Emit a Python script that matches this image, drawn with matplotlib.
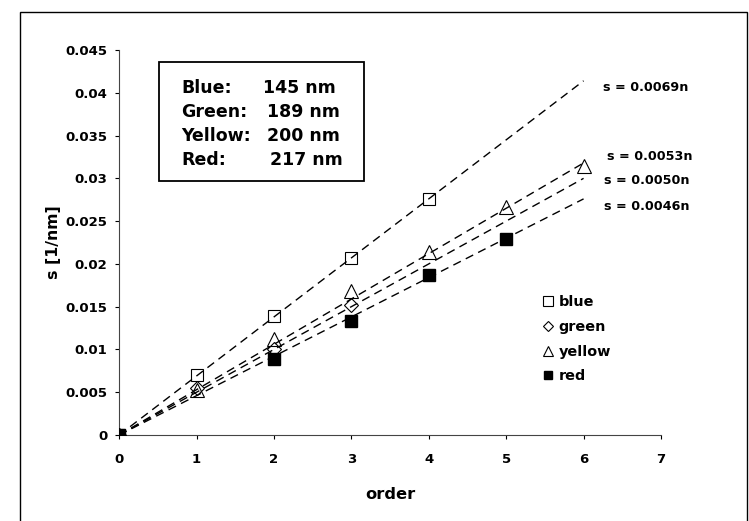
import numpy as np
import matplotlib
matplotlib.use("Agg")
import matplotlib.pyplot as plt
from matplotlib.patches import Rectangle

plt.rcParams["font.family"] = ["DejaVu Sans"]
plt.rcParams["font.weight"] = "bold"

# measured spatial frequencies per diffraction order
blue_n = [0, 1, 2, 3, 4]
blue_s = [0.0, 0.00706, 0.01387, 0.02067, 0.02755]
green_n = [0, 1, 2, 3]
green_s = [0.0, 0.0055, 0.01007, 0.01517]
yellow_n = [0, 1, 2, 3, 4, 5, 6]
yellow_s = [0.0, 0.0053, 0.01126, 0.01684, 0.0214, 0.0266, 0.0315]
red_n = [0, 2, 3, 4, 5]
red_s = [0.0, 0.00885, 0.01338, 0.0187, 0.02286]

# fitted slopes, s = k*n
slopes = [0.0069, 0.0053, 0.0050, 0.0046]
fit_labels = ["s = 0.0069n", "s = 0.0053n", "s = 0.0050n", "s = 0.0046n"]
periods = [("Blue:", "145 nm"), ("Green:", "189 nm"),
           ("Yellow:", "200 nm"), ("Red:", "217 nm")]

fig = plt.figure(figsize=(7.49, 5.21), dpi=100)
ax = fig.add_axes([0.159, 0.165, 0.7235, 0.739])

# fit lines
n_fit = np.array([0, 6])
for k in slopes:
    ax.plot(n_fit, k * n_fit, color="black", ls=(0, (6, 4)), lw=1.0, zorder=2)

ax.plot(blue_n, blue_s, "s", ms=9, mfc="none", mec="black", mew=0.8,
        label="blue", zorder=3)
ax.plot(green_n, green_s, "D", ms=7, mfc="none", mec="black", mew=0.8,
        label="green", zorder=3)
ax.plot(yellow_n, yellow_s, "^", ms=9.5, mfc="none", mec="black", mew=0.8,
        label="yellow", zorder=3)
ax.plot(red_n, red_s, "s", ms=8, mfc="black", mec="black",
        label="red", zorder=4)

ax.set_xlim(0, 7)
ax.set_ylim(0, 0.045)
ax.set_xticks(range(8))
ax.set_yticks(np.arange(0, 0.0451, 0.005))
ax.set_yticklabels(["0", "0.005", "0.01", "0.015", "0.02", "0.025",
                    "0.03", "0.035", "0.04", "0.045"])
ax.tick_params(direction="out", length=3, width=0.8, labelsize=9.5)
ax.tick_params(axis="x", pad=10)
ax.tick_params(axis="y", pad=5.5)
for lab in ax.get_xticklabels() + ax.get_yticklabels():
    lab.set_fontweight("bold")
ax.spines["top"].set_visible(False)
ax.spines["right"].set_visible(False)
ax.spines["left"].set_color("#444444")
ax.spines["bottom"].set_color("#444444")

ax.set_xlabel("order", fontsize=11.7, fontweight="bold", labelpad=15)
ax.set_ylabel("s [1/nm]", fontsize=11.3, fontweight="bold", labelpad=3)

# slope annotations
label_x = [6.25, 6.30, 6.26, 6.26]
label_y = [0.0406, 0.0325, 0.0297, 0.0267]
for x, y, t in zip(label_x, label_y, fit_labels):
    ax.text(x, y, t, fontsize=9.2, fontweight="bold", va="center",
            clip_on=False)

# grating period box
row_y = [0.0406, 0.0378, 0.0350, 0.0322]
val_x = [1.855, 1.91, 1.91, 1.955]
for (name, val), y, vx in zip(periods, row_y, val_x):
    ax.text(0.805, y, name, fontsize=12.5, fontweight="bold", va="center")
    ax.text(vx, y, val, fontsize=12.5, fontweight="bold", va="center")
ax.add_patch(Rectangle((0.51, 0.02965), 2.65, 0.01395, fill=False,
                       ec="black", lw=1.3, zorder=1))

ax.legend(loc="center left", bbox_to_anchor=(0.78, 0.249), frameon=False,
          handlelength=0.8, handletextpad=0.37, labelspacing=0.75,
          borderpad=0, borderaxespad=0, markerscale=0.8,
          prop={"weight": "bold", "size": 10.4})

# outer frame
fig.patches.append(Rectangle((20 / 749, -0.05), 727 / 749, 1 - 12 / 521 + 0.05,
                             transform=fig.transFigure, fill=False,
                             ec="black", lw=1.0))

fig.savefig("out.png", dpi=100)
